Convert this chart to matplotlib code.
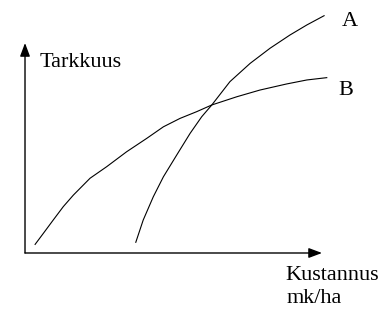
import matplotlib
matplotlib.use("Agg")
import matplotlib.pyplot as plt

# Curve A: accuracy vs cost (relative units, axis arrows end at 100)
a_cost = [37.3, 39.8, 43.2, 46.6, 51.1, 55.6, 59.5, 62.9, 69.0, 75.8, 82.5, 89.2, 94.9, 100.7]
a_acc = [5.1, 15.7, 26.8, 36.3, 46.7, 57.0, 64.9, 70.5, 81.6, 90.3, 97.5, 103.8, 108.6, 113.0]

# Curve B
b_cost = [3.4, 6.2, 9.5, 12.9, 16.3, 21.9, 27.5, 34.2, 41.0, 46.6, 52.2, 57.8,
          62.9, 71.3, 79.1, 88.1, 94.9, 101.6]
b_acc = [4.1, 9.4, 15.7, 22.1, 27.6, 35.6, 41.1, 48.2, 54.6, 60.1, 64.1, 67.3,
         70.5, 74.4, 77.6, 80.5, 82.4, 83.5]

y_label = "Tarkkuus"
x_label = ["Kustannus", "mk/ha"]
curve_names = ["A", "B"]

plt.rcParams["font.family"] = ["Liberation Serif", "DejaVu Serif"]

fig = plt.figure(figsize=(3.79, 3.14), dpi=100)
ax = fig.add_axes([0, 0, 1, 1])
ax.set_xlim(-8.42, 119.19)
ax.set_ylim(-29.05, 120.48)
ax.axis("off")

# axes with arrows
arrow = dict(arrowstyle="-|>,head_length=0.8,head_width=0.3", color="black",
             lw=1.0, shrinkA=0, shrinkB=0)
ax.annotate("", xy=(0, 100), xytext=(0, 0), arrowprops=arrow)
ax.annotate("", xy=(100, 0), xytext=(0, 0), arrowprops=arrow)

ax.plot(a_cost, a_acc, color="black", lw=0.8)
ax.plot(b_cost, b_acc, color="black", lw=0.8)

fs = 16
ax.text(5.05, 88.6, y_label, fontsize=fs, ha="left", va="baseline")
ax.text(106.7, 108.1, curve_names[0], fontsize=fs, ha="left", va="baseline")
ax.text(105.4, 75.2, curve_names[1], fontsize=fs, ha="left", va="baseline")
ax.text(87.5, -12.9, x_label[0], fontsize=fs, ha="left", va="baseline")
ax.text(88.2, -23.8, x_label[1], fontsize=fs, ha="left", va="baseline")

fig.savefig("out.png", dpi=100)
